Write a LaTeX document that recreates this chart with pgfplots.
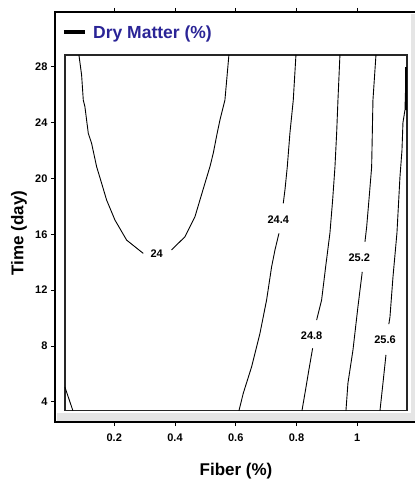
\documentclass[border=0pt]{standalone}
\usepackage{pgfplots}
\pgfplotsset{compat=1.18}
\usepackage{fontspec}
\setmainfont{Liberation Sans}
\definecolor{legblue}{RGB}{42,36,150}
\begin{document}
\begin{tikzpicture}
\useasboundingbox (-55pt,-61pt) rectangle (360pt,422pt);
\begin{axis}[
 scale only axis, width=363pt, height=410pt,
 xmin=0.005, xmax=1.2, ymin=2.55, ymax=31.92,
 axis line style={line width=1.2pt, black},
 xtick={0.2,0.4,0.6,0.8,1}, xticklabels={0.2,0.4,0.6,0.8,1},
 ytick={4,8,12,16,20,24,28},
 tick align=outside, xtick pos=both, ytick pos=left, xticklabel pos=lower,
 major tick length=4pt,
 tick style={line width=0.8pt, black},
 ticklabel style={font=\fontsize{11}{13}\selectfont\bfseries},
 xticklabel style={yshift=-4pt},
 /pgf/number format/assume math mode=true,
 clip=false,
]
\fill[gray!20] (axis cs:0.0114,2.62) rectangle (axis cs:1.2,3.19);
\fill[gray!20] (axis cs:1.1768,2.62) rectangle (axis cs:1.2,31.77);
% inner frame
\addplot[line width=1.2pt, black!85] coordinates {(0.0377,3.355) (1.1636,3.355) (1.1636,28.84) (0.0377,28.84) (0.0377,3.355)};
% contour 24 (left branch)
\addplot[black, line width=0.9pt] coordinates {(0.0838,28.84) (0.0926,27.4) (0.0981,25.61) (0.1035,25.13) (0.1146,23.23) (0.1255,22.51) (0.1420,20.84) (0.1585,19.65) (0.1749,18.45) (0.2023,17.02) (0.2408,15.58) (0.2955,14.63)};
% contour 24 (right branch)
\addplot[black, line width=0.9pt] coordinates {(0.3886,14.87) (0.4327,15.82) (0.4657,17.25) (0.4821,18.45) (0.4986,19.65) (0.5151,20.84) (0.5260,21.80) (0.5388,23.23) (0.5480,24.18) (0.5644,25.61) (0.5775,28.84)};
% contour 24 (corner)
\addplot[black, line width=0.9pt] coordinates {(0.0377,5.05) (0.0640,3.355)};
% contour 24.4
\addplot[black, line width=0.9pt] coordinates {(0.7982,28.84) (0.7894,25.61) (0.7784,23.25) (0.7696,20.81) (0.7620,19.17) (0.7564,18.21)};
\addplot[black, line width=0.9pt] coordinates {(0.7422,16.06) (0.7291,14.87) (0.7181,13.67) (0.7016,11.29) (0.6797,8.90) (0.6523,6.51) (0.6247,4.60) (0.6105,3.355)};
% contour 24.8
\addplot[black, line width=0.9pt] coordinates {(0.9430,28.84) (0.9365,25.61) (0.9322,23.24) (0.9266,20.81) (0.9190,18.45) (0.9101,16.09) (0.8959,13.65) (0.8827,11.29) (0.8663,9.85)};
\addplot[black, line width=0.9pt] coordinates {(0.8531,7.83) (0.8388,6.03) (0.8278,4.60) (0.8180,3.355)};
% contour 25.2
\addplot[black, line width=0.9pt] coordinates {(1.0616,28.84) (1.0517,25.61) (1.0474,20.81) (1.0385,18.45) (1.0310,16.52) (1.0254,15.46)};
\addplot[black, line width=0.9pt] coordinates {(1.0165,13.31) (1.0023,10.81) (0.9859,7.70) (0.9694,5.34) (0.9628,3.355)};
% contour 25.6
\addplot[black, line width=0.9pt] coordinates {(1.1610,27.9) (1.1571,24.9) (1.1505,24.0) (1.1472,22.0) (1.1406,20.10) (1.1307,16.09) (1.1176,12.93) (1.1077,10.07) (1.1040,9.56)};
\addplot[black, line width=0.9pt] coordinates {(1.0945,7.35) (1.0847,5.34) (1.0748,3.355)};
% contour 26 along right edge
\addplot[black, line width=1.6pt] coordinates {(1.1605,28.0) (1.1605,24.9)};
\begin{scope}[every node/.style={font=\fontsize{11}{13}\selectfont\bfseries, inner sep=0pt}]
\node at (axis cs:0.3397,14.58) {24};
\node at (axis cs:0.7401,17.07) {24.4};
\node at (axis cs:0.8498,8.71) {24.8};
\node at (axis cs:1.0066,14.31) {25.2};
\node at (axis cs:1.0913,8.42) {25.6};
\end{scope}
\end{axis}
\draw[line width=4pt] (9pt,390pt) -- (30pt,390pt);
\node[anchor=base west, inner sep=0pt, text=legblue, font=\fontsize{17.5}{20}\selectfont\bfseries] at (38pt,383pt) {Dry Matter (\%)};
\node[anchor=base, inner sep=0pt, font=\fontsize{17}{20}\selectfont\bfseries] at (181pt,-53pt) {Fiber (\%)};
\node[anchor=center, rotate=90, inner sep=0pt, font=\fontsize{17}{20}\selectfont\bfseries] at (-36pt,189pt) {Time (day)};
\end{tikzpicture}
\end{document}
